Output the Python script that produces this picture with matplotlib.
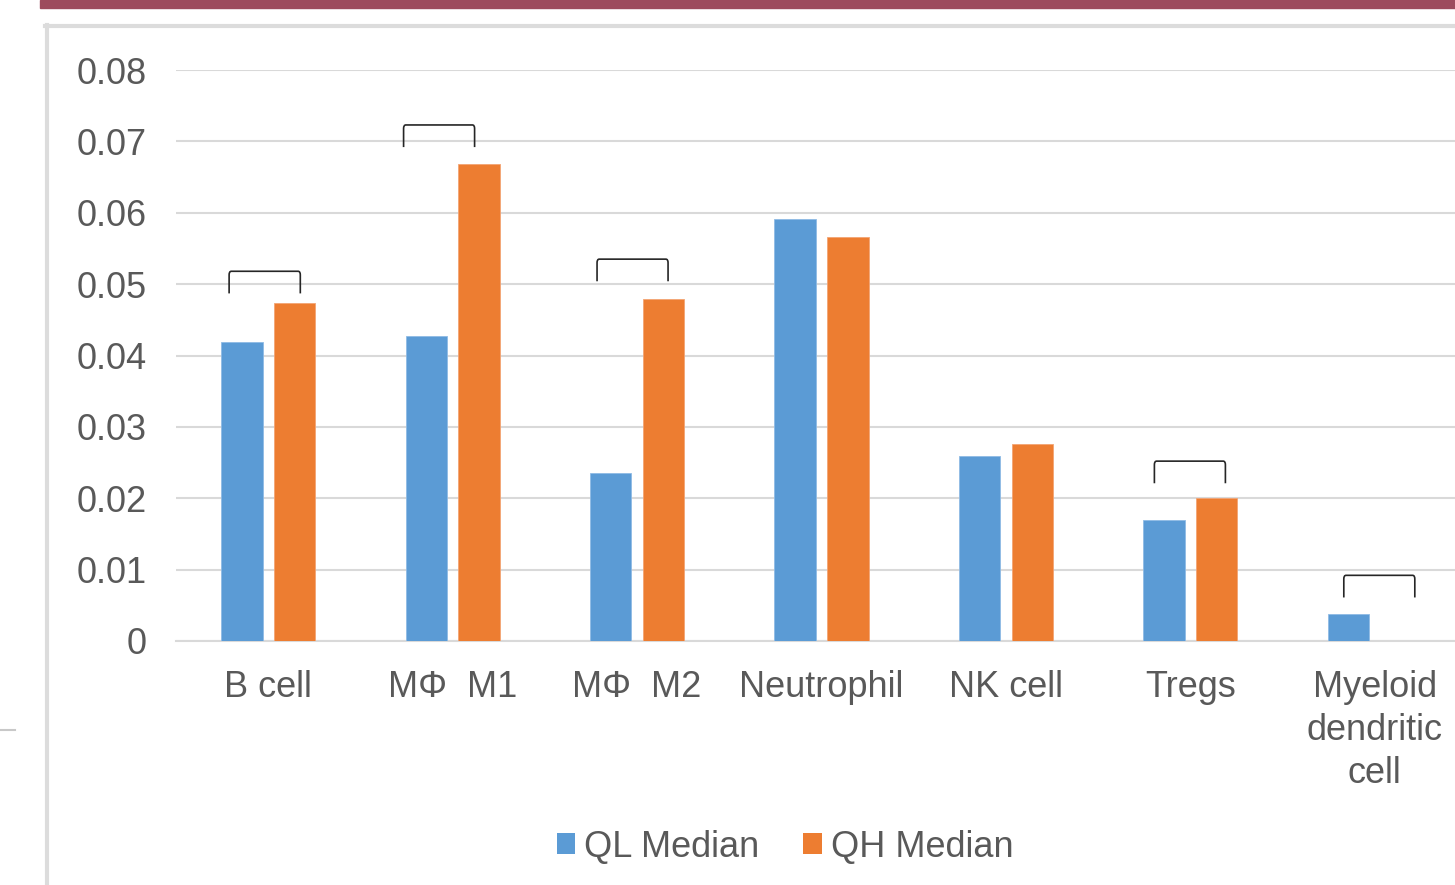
import matplotlib
matplotlib.use("Agg")
import matplotlib.pyplot as plt
from matplotlib.path import Path
from matplotlib.patches import PathPatch, Patch, Rectangle
from matplotlib.lines import Line2D
import numpy as np

plt.rcParams['font.family'] = ['Liberation Sans', 'DejaVu Sans']

categories = ["B cell", "M\u03a6  M1", "M\u03a6  M2", "Neutrophil", "NK cell", "Tregs",
              "Myeloid\ndendritic\ncell"]
ql_median = [0.0419, 0.0427, 0.0235, 0.0591, 0.0259, 0.0169, 0.0038]
qh_median = [0.0473, 0.0668, 0.0479, 0.0566, 0.0276, 0.0200, 0.0]
series_names = ["QL Median", "QH Median"]
y_ticks = [0, 0.01, 0.02, 0.03, 0.04, 0.05, 0.06, 0.07, 0.08]
y_tick_labels = ["0", "0.01", "0.02", "0.03", "0.04", "0.05", "0.06", "0.07", "0.08"]

# comparison brackets: (category index, left offset, right offset, top value)
brackets = [(0, -0.212, 0.174, 0.0518),
            (1, -0.266, 0.119, 0.0723),
            (2, -0.217, 0.168, 0.0535),
            (5, -0.195, 0.190, 0.0252),
            (6, -0.168, 0.217, 0.0092)]

BLUE = "#5b9bd5"
ORANGE = "#ed7d31"
GRID = "#d9d9d9"
TEXT = "#595959"
FS = 26

W, H = 1455, 885
fig = plt.figure(figsize=(W / 100, H / 100), dpi=100)

# page decorations: title strip and panel frame
fig.patches.append(Rectangle((40 / W, 1 - 8 / H), 1 - 40 / W, 8 / H,
                             transform=fig.transFigure, color="#9d4b5d", zorder=0))
fig.lines.append(Line2D([45 / W, 1], [1 - 26 / H, 1 - 26 / H], transform=fig.transFigure,
                        color="#dcdcdc", lw=3))
fig.lines.append(Line2D([47 / W, 47 / W], [0, 1 - 25 / H], transform=fig.transFigure,
                        color="#dcdcdc", lw=3))
fig.lines.append(Line2D([0, 15 / W], [1 - 730 / H, 1 - 730 / H], transform=fig.transFigure,
                        color="#c8c8c8", lw=1.5))

left, right = 176 / W, 1467 / W
bottom, top = 1 - 641 / H, 1 - 70 / H
ax = fig.add_axes([left, bottom, right - left, top - bottom])

x = np.arange(len(categories))
bw = 0.225
off = 0.143
ax.bar(x - off, ql_median, bw, color=BLUE, edgecolor="#8fbbe5", linewidth=0.6,
       label=series_names[0], zorder=3)
ax.bar(x + off, qh_median, bw, color=ORANGE, edgecolor="#f3a474", linewidth=0.6,
       label=series_names[1], zorder=3)

ax.set_xlim(-0.5, 6.5)
ax.set_ylim(0, 0.08)
ax.set_yticks(y_ticks)
ax.set_yticklabels(y_tick_labels)
ax.set_xticks(x)
ax.set_xticklabels(categories, linespacing=1.3)
ax.tick_params(axis="y", length=0, pad=21, labelsize=FS, labelcolor=TEXT)
ax.tick_params(axis="x", length=0, pad=21, labelsize=FS, labelcolor=TEXT)
ax.yaxis.grid(True, color=GRID, lw=1.5, zorder=0)
ax.set_axisbelow(True)
for s in ["top", "right", "left"]:
    ax.spines[s].set_visible(False)
ax.spines["bottom"].set_color(GRID)
ax.spines["bottom"].set_linewidth(1.5)

# brackets with rounded corners
bh = 0.0031
r_x = 0.012
r_y = 0.0005
for idx, lo, hi, ytop in brackets:
    x0, x1 = idx + lo, idx + hi
    verts = [(x0, ytop - bh), (x0, ytop - r_y), (x0, ytop), (x0 + r_x, ytop),
             (x1 - r_x, ytop), (x1, ytop), (x1, ytop - r_y), (x1, ytop - bh)]
    codes = [Path.MOVETO, Path.LINETO, Path.CURVE3, Path.CURVE3,
             Path.LINETO, Path.CURVE3, Path.CURVE3, Path.LINETO]
    ax.add_patch(PathPatch(Path(verts, codes), fill=False, edgecolor="#262626",
                           lw=1.2, clip_on=False, zorder=4))

handles = [Patch(facecolor=BLUE, edgecolor="none"), Patch(facecolor=ORANGE, edgecolor="none")]
leg = fig.legend(handles, series_names, loc="center", bbox_to_anchor=(785 / W, 1 - 847 / H),
                 ncol=2, frameon=False, fontsize=FS, handlelength=0.52, handleheight=0.52,
                 handletextpad=0.25, columnspacing=1.2, borderaxespad=0)
for t in leg.get_texts():
    t.set_color(TEXT)

fig.savefig("out.png", dpi=100, facecolor="white")
